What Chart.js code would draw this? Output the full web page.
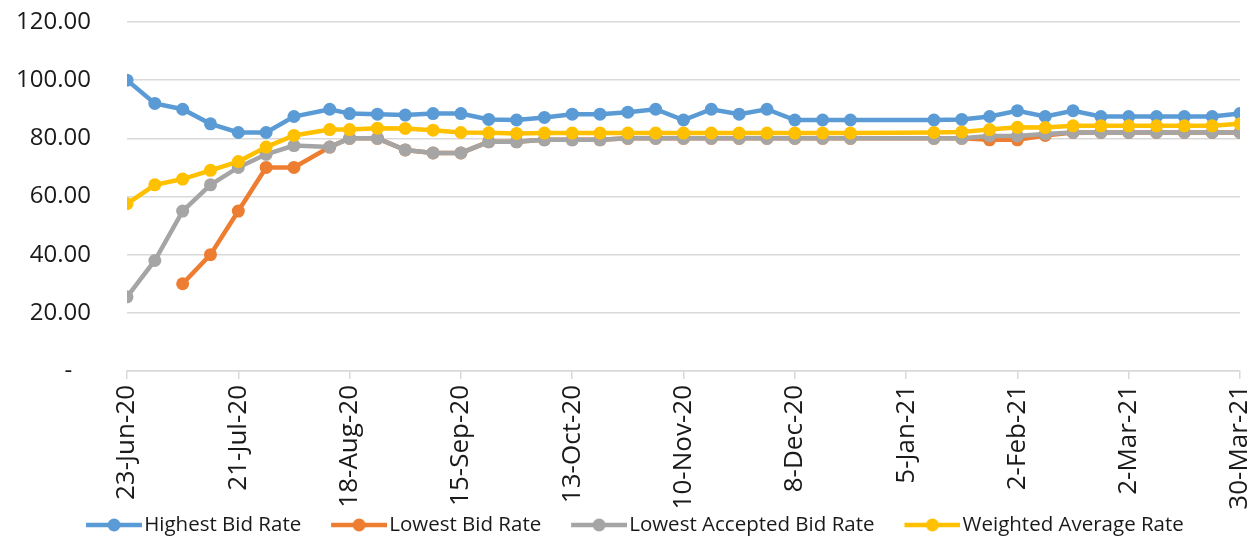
<!DOCTYPE html>
<html>
<head>
<meta charset="utf-8">
<title>Bid Rates</title>
<script src="https://cdn.jsdelivr.net/npm/chart.js@4.4.1/dist/chart.umd.min.js"></script>
<style>
  html, body { margin: 0; padding: 0; background: #fff; overflow: hidden; }
</style>
</head>
<body>
<canvas id="myChart" width="1249" height="536"></canvas>
<script>
// Auction dates (weekly, with a holiday gap at the turn of the year)
const dates = [
  '2020-06-23', '2020-06-30', '2020-07-07', '2020-07-14', '2020-07-21', '2020-07-28',
  '2020-08-04', '2020-08-13', '2020-08-18', '2020-08-25', '2020-09-01', '2020-09-08',
  '2020-09-15', '2020-09-22', '2020-09-29', '2020-10-06', '2020-10-13', '2020-10-20',
  '2020-10-27', '2020-11-03', '2020-11-10', '2020-11-17', '2020-11-24', '2020-12-01',
  '2020-12-08', '2020-12-15', '2020-12-22', '2021-01-12', '2021-01-19', '2021-01-26',
  '2021-02-02', '2021-02-09', '2021-02-16', '2021-02-23', '2021-03-02', '2021-03-09',
  '2021-03-16', '2021-03-23', '2021-03-30'
];

const highestBid = [
  100, 92, 90, 85, 82, 82, 87.5, 90, 88.5, 88.3, 88, 88.5,
  88.5, 86.5, 86.3, 87.2, 88.3, 88.3, 89, 90, 86.3, 90, 88.3, 90,
  86.3, 86.3, 86.3, 86.3, 86.5, 87.5, 89.5, 87.5, 89.5, 87.5, 87.5, 87.5,
  87.5, 87.5, 88.5
];
const lowestBid = [
  null, null, 30, 40, 55, 70, 70, 77, 80, 80, 76, 75,
  75, 78.8, 78.8, 79.5, 79.5, 79.5, 80, 80, 80, 80, 80, 80,
  80, 80, 80, 80, 80, 79.5, 79.5, 81, 82, 82, 82, 82,
  82, 82, 82
];
const lowestAccepted = [
  25.5, 38, 55, 64, 70, 74.5, 77.5, 77, 80, 80, 76, 75,
  75, 78.8, 78.8, 79.5, 79.5, 79.5, 80, 80, 80, 80, 80, 80,
  80, 80, 80, 80, 80, 80.8, 80.8, 81.5, 82, 82, 82, 82,
  82, 82, 82
];
const weightedAvg = [
  57.5, 64, 66, 69, 72, 77, 81, 83, 83, 83.5, 83.4, 82.8,
  82, 81.9, 81.7, 81.8, 81.8, 81.8, 81.8, 81.8, 81.8, 81.8, 81.8, 81.8,
  81.8, 81.8, 81.8, 82, 82.2, 83, 83.8, 83.7, 84.3, 84.3, 84.3, 84.3,
  84.3, 84.3, 85
];

const tickLabels = ['23-Jun-20', '21-Jul-20', '18-Aug-20', '15-Sep-20', '13-Oct-20', '10-Nov-20',
  '8-Dec-20', '5-Jan-21', '2-Feb-21', '2-Mar-21', '30-Mar-21'];

const seriesNames = ['Highest Bid Rate', 'Lowest Bid Rate', 'Lowest Accepted Bid Rate', 'Weighted Average Rate'];
const seriesColors = ['#5B9BD5', '#ED7D31', '#A5A5A5', '#FFC000'];

// days since the first auction, used as the x value
const day0 = Date.parse(dates[0]);
const xDays = dates.map(d => Math.round((Date.parse(d) - day0) / 86400000));

function toPoints(values) {
  return values.map((v, i) => ({ x: xDays[i], y: v }));
}

// legend icon: line with a dot (Excel style). Left part of the image is
// blank so it also gives the gap between legend entries.
function legendIcon(color) {
  const c = document.createElement('canvas');
  c.width = 94;
  c.height = 16;
  const g = c.getContext('2d');
  g.strokeStyle = color;
  g.lineWidth = 4.5;
  g.beginPath();
  g.moveTo(38, 8);
  g.lineTo(94, 8);
  g.stroke();
  g.fillStyle = color;
  g.beginPath();
  g.arc(66, 8, 6.5, 0, Math.PI * 2);
  g.fill();
  return c;
}
const legendIcons = seriesColors.map(legendIcon);

const allSeries = [highestBid, lowestBid, lowestAccepted, weightedAvg];

const datasets = allSeries.map((vals, i) => ({
  label: seriesNames[i],
  data: toPoints(vals),
  borderColor: seriesColors[i],
  backgroundColor: seriesColors[i],
  pointBackgroundColor: seriesColors[i],
  pointBorderWidth: 0,
  pointRadius: 6.5,
  pointHoverRadius: 6.5,
  borderWidth: 4.5,
  tension: 0,
  order: 4 - i // later series on top, like Excel
}));

Chart.defaults.font.family = '"Open Sans", "Noto Sans", sans-serif';
Chart.defaults.color = '#1a1a1a';

const ctx = document.getElementById('myChart').getContext('2d');
const myChart = new Chart(ctx, {
  type: 'line',
  data: { datasets },
  options: {
    responsive: false,
    animation: false,
    events: [],
    layout: { padding: { left: 0, right: 9, top: 22, bottom: -9.25 } },
    plugins: {
      tooltip: { enabled: false },
      legend: {
        position: 'bottom',
        labels: {
          usePointStyle: true,
          pointStyleWidth: 77.75,
          padding: 0,
          font: { size: 20.5 },
          color: '#1a1a1a',
          sort: (a, b) => a.datasetIndex - b.datasetIndex,
          generateLabels(chart) {
            const items = Chart.defaults.plugins.legend.labels.generateLabels(chart);
            items.forEach(it => { it.pointStyle = legendIcons[it.datasetIndex]; });
            return items;
          }
        }
      }
    },
    scales: {
      x: {
        type: 'linear',
        min: 0,
        max: 280,
        grid: { drawOnChartArea: false, drawTicks: true, tickLength: 8, color: '#D9D9D9', lineWidth: 1.5 },
        border: { display: true, color: '#D9D9D9', width: 1.5 },
        ticks: {
          stepSize: 28,
          autoSkip: false,
          maxRotation: 90,
          minRotation: 90,
          padding: 6,
          font: { size: 26 },
          callback: (v) => tickLabels[Math.round(v / 28)]
        },
        afterFit(s) {
          s.height = 143.75;
          s.paddingLeft = 0;
          s.paddingRight = 0;
        }
      },
      y: {
        min: 0,
        max: 120,
        grid: { drawTicks: false, color: '#D9D9D9', lineWidth: 1.5 },
        border: { display: false },
        ticks: {
          stepSize: 20,
          padding: 36,
          font: { size: 24 },
          callback: (v) => v === 0 ? '-   ' : v.toFixed(2)
        },
        afterFit(s) {
          s.width = 127;
          s.paddingTop = 0;
          s.paddingBottom = 0;
        }
      }
    }
  }
});
</script>
</body>
</html>
